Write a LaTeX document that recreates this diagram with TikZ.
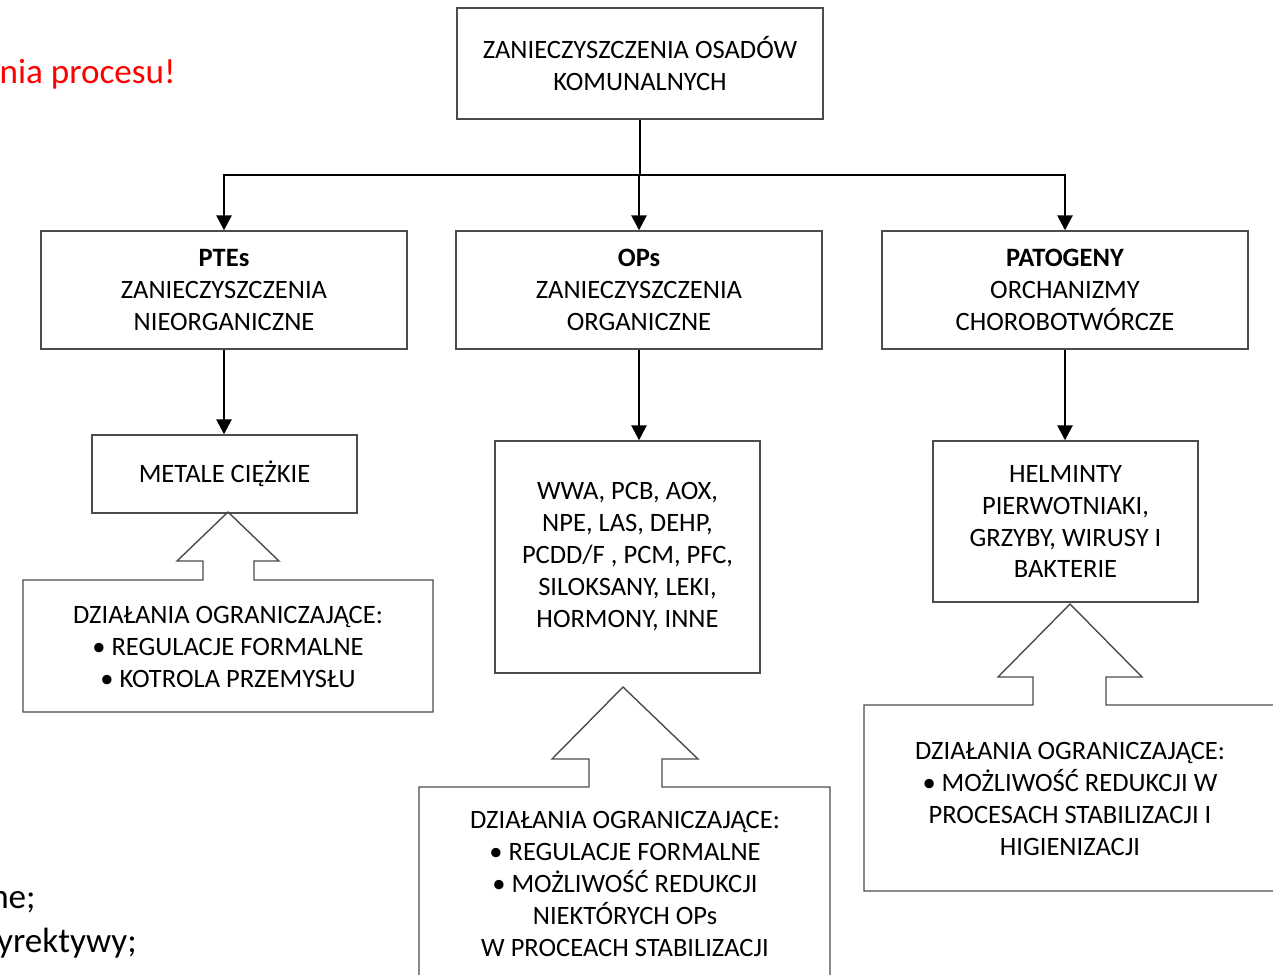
\documentclass[tikz,border=0pt]{standalone}
\usepackage{fontspec}
\setmainfont{Carlito}
\usetikzlibrary{arrows.meta}

\tikzstyle{txt}=[align=center,inner sep=0pt,font=\fontsize{15.1}{18.2}\selectfont]
\tikzstyle{box}=[txt,draw=black!70,line width=0.8pt]
\tikzstyle{wide box}=[box,minimum width=7.32cm]
\tikzstyle{small box}=[box,minimum width=5.3cm]
\tikzstyle{note}=[inner sep=0pt,anchor=base east,font=\fontsize{20}{24}\selectfont]
\tikzstyle{edge}=[draw,line width=1.5pt,-{Triangle[width=8.5pt,length=8.5pt]}]
\tikzstyle{outline}=[draw=black!70,line width=0.8pt,line join=miter]

\begin{document}
\begin{tikzpicture}[x=0.02cm,y=-0.02cm]
\useasboundingbox (0,0) rectangle (1273,974);
\clip (0,0) rectangle (1273,974);

% cut-off notes of the slide
\node[note,text=red] (remark) at (176,83) {nia procesu!};
\node[note] (line1) at (36,908) {ne;};
\node[note] (line2) at (137,952) {yrektywy;};

% main boxes
\node[wide box,minimum height=2.22cm] (top) at (640,63.5)
  {ZANIECZYSZCZENIA OSADÓW\\KOMUNALNYCH};
\node[wide box,minimum height=2.36cm] (pte) at (224,290)
  {\textbf{PTEs}\\ZANIECZYSZCZENIA\\NIEORGANICZNE};
\node[wide box,minimum height=2.36cm] (op) at (639,290)
  {\textbf{OPs}\\ZANIECZYSZCZENIA\\ORGANICZNE};
\node[wide box,minimum height=2.36cm] (pat) at (1065,290)
  {\textbf{PATOGENY}\\ORCHANIZMY\\CHOROBOTWÓRCZE};

\node[small box,minimum height=1.56cm] (metal) at (224.5,474) {METALE CIĘŻKIE};
\node[small box,minimum height=4.64cm] (wwa) at (627.5,557)
  {WWA, PCB, AOX,\\NPE, LAS, DEHP,\\PCDD/F , PCM, PFC,\\SILOKSANY, LEKI,\\HORMONY, INNE};
\node[small box,minimum height=3.22cm] (helm) at (1065.5,521.5)
  {HELMINTY\\PIERWOTNIAKI,\\GRZYBY, WIRUSY I\\BAKTERIE};

% connectors
\coordinate (hub) at (640,175);
\draw[line width=1.5pt] (top.south) -- (hub);
\foreach \dest in {pte,op,pat}{
  \path[edge] (hub) -| (\dest.north);
}
\foreach \source/\dest in {pte/metal, op/wwa, pat/helm}{
  \path[edge] (\source.south) -- (\source.south |- \dest.north);
}

% limiting actions with block arrows
\node[txt] (lim1) at (228,647)
  {DZIAŁANIA OGRANICZAJĄCE:\\\textbullet\ REGULACJE FORMALNE\\\textbullet\ KOTROLA PRZEMYSŁU};
\draw[outline] (23,580) -- (203,580) -- (203,561) -- (177,561) -- (228,512)
  -- (279,561) -- (254,561) -- (254,580) -- (433,580) -- (433,712) -- (23,712) -- cycle;

\node[txt] (lim2) at (625,884)
  {DZIAŁANIA OGRANICZAJĄCE:\\\textbullet\ REGULACJE FORMALNE\\\textbullet\ MOŻLIWOŚĆ REDUKCJI\\NIEKTÓRYCH OPs\\W PROCEACH STABILIZACJI};
\draw[outline] (419,1000) -- (419,787) -- (589,787) -- (589,759) -- (552,759) -- (623,687)
  -- (698,759) -- (662,759) -- (662,787) -- (830,787) -- (830,1000);

\node[txt] (lim3) at (1070,799)
  {DZIAŁANIA OGRANICZAJĄCE:\\\textbullet\ MOŻLIWOŚĆ REDUKCJI W\\PROCESACH STABILIZACJI I\\HIGIENIZACJI};
\draw[outline] (1290,891) -- (864,891) -- (864,705) -- (1033,705) -- (1033,677) -- (998,677)
  -- (1070,604) -- (1142,677) -- (1106,677) -- (1106,705) -- (1290,705);
\end{tikzpicture}
\end{document}
